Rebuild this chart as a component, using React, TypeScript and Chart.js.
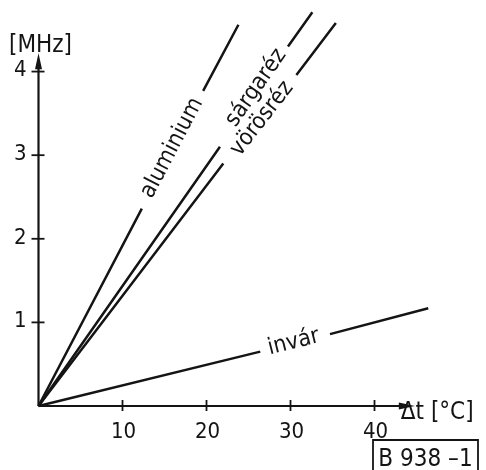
import { useEffect, useRef } from "react";
import { Chart, registerables } from "chart.js";

Chart.register(...registerables);

// Axis ticks and titles
const xTicks = [10, 20, 30, 40];
const yTicks = [1, 2, 3, 4];
const xTitle = "Δt [°C]";
const yTitle = "[MHz]";
const stampText = "B 938 –1";
const xAxisEnd = 44.8;
const yAxisEnd = 4.22;

// Series (null = gap left for the curve's label)
const seriesNames = ["aluminium", "sárgaréz", "vörösréz", "invár"];
const aluminiumX = [0, 12.3, 16, 19.6, 23.8];
const aluminiumY = [0, 2.36, null, 3.77, 4.56];
const sargarezX = [0, 21.6, 26, 29.7, 32.6];
const sargarezY = [0, 3.1, null, 4.3, 4.71];
const vorosrezX = [0, 22.0, 26.5, 30.7, 35.4];
const vorosrezY = [0, 2.9, null, 3.96, 4.58];
const invarX = [0, 26.4, 30.5, 34.7, 46.4];
const invarY = [0, 0.65, null, 0.86, 1.17];

// Label anchors (data coordinates) for the curve names
const labelX = [16.0, 26.0, 26.7, 30.4];
const labelY = [3.08, 3.8, 3.43, 0.75];

const FONT = "'DejaVu Sans Condensed', 'DejaVu Sans', sans-serif";
const INK = "#141414";

function pts(xs: number[], ys: (number | null)[]) {
  return xs.map((x, i) => ({ x, y: ys[i] }));
}

export default function App() {
  const ref = useRef<HTMLCanvasElement | null>(null);

  useEffect(() => {
    const canvas = ref.current;
    if (!canvas) return;
    const seriesData = [
      pts(aluminiumX, aluminiumY),
      pts(sargarezX, sargarezY),
      pts(vorosrezX, vorosrezY),
      pts(invarX, invarY),
    ];

    const decor = {
      id: "decor",
      afterDatasetsDraw(chart: any) {
        const ctx = chart.ctx as CanvasRenderingContext2D;
        const xs = chart.scales.x;
        const ys = chart.scales.y;
        const px = (v: number) => xs.getPixelForValue(v);
        const py = (v: number) => ys.getPixelForValue(v);
        const ox = px(0);
        const oy = py(0);
        ctx.save();
        ctx.strokeStyle = INK;
        ctx.fillStyle = INK;
        ctx.lineWidth = 2.2;
        ctx.lineCap = "butt";

        // x axis with arrow
        const xt = px(xAxisEnd);
        ctx.beginPath();
        ctx.moveTo(ox, oy);
        ctx.lineTo(xt - 10, oy);
        ctx.stroke();
        ctx.beginPath();
        ctx.moveTo(xt, oy);
        ctx.lineTo(xt - 16, oy - 3.5);
        ctx.lineTo(xt - 16, oy + 3.5);
        ctx.closePath();
        ctx.fill();

        // y axis with arrow
        const yt = py(yAxisEnd);
        ctx.beginPath();
        ctx.moveTo(ox, oy);
        ctx.lineTo(ox, yt + 10);
        ctx.stroke();
        ctx.beginPath();
        ctx.moveTo(ox, yt);
        ctx.lineTo(ox - 3.5, yt + 16);
        ctx.lineTo(ox + 3.5, yt + 16);
        ctx.closePath();
        ctx.fill();

        // ticks
        ctx.lineWidth = 1.8;
        ctx.font = `22px ${FONT}`;
        ctx.textAlign = "center";
        ctx.textBaseline = "alphabetic";
        xTicks.forEach((v) => {
          const x = px(v);
          ctx.beginPath();
          ctx.moveTo(x, oy - 6);
          ctx.lineTo(x, oy + 5);
          ctx.stroke();
          ctx.fillText(String(v), x + 1, oy + 32);
        });
        ctx.textAlign = "right";
        ctx.textBaseline = "middle";
        yTicks.forEach((v) => {
          const y = py(v);
          ctx.beginPath();
          ctx.moveTo(ox - 7, y);
          ctx.lineTo(ox + 6, y);
          ctx.stroke();
          ctx.fillText(String(v), ox - 12, y - 1);
        });

        // axis titles
        ctx.font = `24px ${FONT}`;
        ctx.textAlign = "center";
        ctx.textBaseline = "alphabetic";
        ctx.fillText(yTitle, ox + 2, yt - 1);
        ctx.textAlign = "left";
        ctx.fillText(xTitle, xt - 14, oy + 13);

        // curve labels along the lines
        ctx.font = `23px ${FONT}`;
        ctx.textAlign = "center";
        ctx.textBaseline = "middle";
        const sets = [
          [aluminiumX, aluminiumY],
          [sargarezX, sargarezY],
          [vorosrezX, vorosrezY],
          [invarX, invarY],
        ] as const;
        seriesNames.forEach((name, i) => {
          const [sx, sy] = sets[i];
          const n = sx.length - 1;
          const dx = px(sx[n]) - px(sx[0]);
          const dy = py(sy[n] as number) - py(sy[0] as number);
          const ang = Math.atan2(dy, dx);
          ctx.save();
          ctx.translate(px(labelX[i]), py(labelY[i]));
          ctx.rotate(ang);
          ctx.fillText(name, 0, -1);
          ctx.restore();
        });

        // drawing number stamp
        ctx.lineWidth = 1.8;
        ctx.beginPath();
        ctx.moveTo(373, 471);
        ctx.lineTo(373, 440);
        ctx.lineTo(478, 440);
        ctx.lineTo(478, 471);
        ctx.stroke();
        ctx.font = `24px ${FONT}`;
        ctx.textAlign = "center";
        ctx.textBaseline = "alphabetic";
        ctx.fillText(stampText, 425.5, 466);

        ctx.restore();
      },
    };

    const chart = new Chart(canvas, {
      type: "line",
      data: {
        datasets: seriesData.map((d, i) => ({
          label: seriesNames[i],
          data: d as any,
          borderColor: INK,
          borderWidth: 2.5,
          pointRadius: 0,
          tension: 0,
          spanGaps: false,
          clip: false as any,
        })),
      },
      options: {
        animation: false,
        responsive: false,
        maintainAspectRatio: false,
        parsing: true,
        layout: { padding: { left: 38.5, right: 44.3, top: 0.5, bottom: 64 } },
        plugins: { legend: { display: false }, tooltip: { enabled: false } },
        scales: {
          x: { type: "linear", min: 0, max: 48, display: false },
          y: { type: "linear", min: 0, max: 4.85, display: false },
        },
      },
      plugins: [decor],
    });
    return () => chart.destroy();
  }, []);

  return (
    <div style={{ position: "absolute", left: 0, top: 0, width: 486, height: 470, background: "#fff" }}>
      <canvas ref={ref} width={486} height={470} style={{ width: 486, height: 470, display: "block" }} />
    </div>
  );
}
